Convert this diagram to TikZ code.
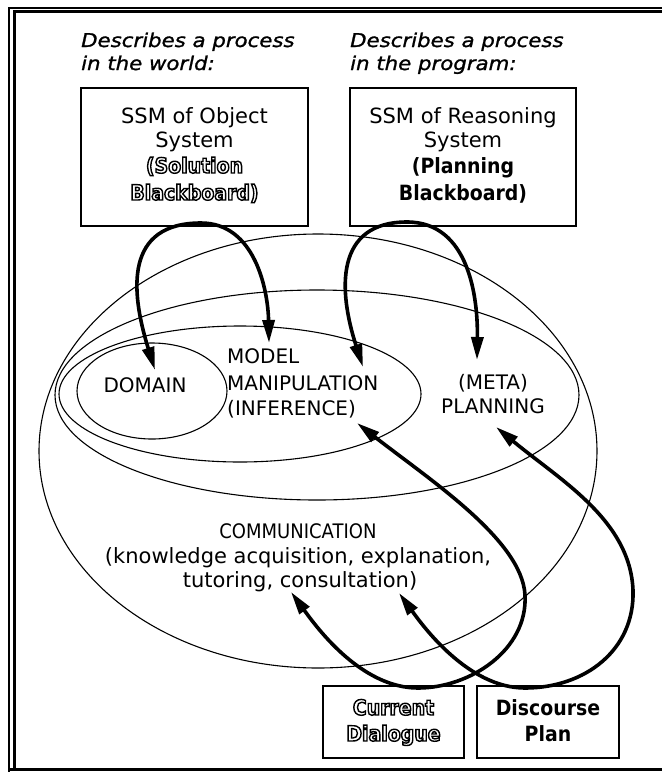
\documentclass[tikz,border=0pt]{standalone}
\usepackage{fontspec}
\setmainfont{DejaVu Sans}
\newfontfamily\plainfont{DejaVu Sans}
\newfontfamily\heavyfont{DejaVu Sans}[FakeStretch=0.9]
\newfontfamily\notefont{DejaVu Sans}[FakeStretch=1.12,FakeBold=1.2]
\newfontfamily\narrowfont{DejaVu Sans}[FakeStretch=0.9]
\usetikzlibrary{shapes.geometric,arrows.meta}

% stroked (hollow) lettering
\newcommand{\hollowtext}[1]{\special{pdf:literal direct 1 Tr 1.4 w}#1\special{pdf:literal direct 0 Tr}}

\begin{document}
\begin{tikzpicture}[x=1pt,y=-1pt,
  ring/.style={draw, ellipse, line width=1.1pt, inner sep=0pt, outer sep=0pt},
  box/.style={draw, rectangle, line width=1.8pt, inner sep=0pt, outer sep=0pt},
  txt/.style={inner sep=0pt, anchor=base},
  note/.style={txt, anchor=base west, font=\notefont\itshape\fontsize{19}{23}\selectfont},
  boxline/.style={txt, font=\plainfont\fontsize{21}{25}\selectfont},
  heavy/.style={txt, font=\heavyfont\bfseries\fontsize{21}{25}\selectfont},
  label/.style={txt, font=\plainfont\fontsize{20}{24}\selectfont},
  loop/.style={line width=3.6pt, {Triangle[length=23pt,width=12pt]}-{Triangle[length=23pt,width=12pt]}},
]
\useasboundingbox (0,0) rectangle (662,772);

% frame
\draw[line width=2pt] (8.5,772) -- (8.5,7.5) -- (662,7.5);
\draw[line width=2.5pt] (14.5,768) -- (14.5,11.5) -- (662,11.5);
\draw[line width=3pt] (8,769.5) -- (662,769.5);

% headings
\node[note] (h1a) at (81,47) {Describes a process};
\node[note] (h1b) at (81,70) {in the world:};
\node[note] (h2a) at (350,47) {Describes a process};
\node[note] (h2b) at (350,70) {in the program:};

% state-space model boxes
\node[box, minimum width=227pt, minimum height=138pt] (objbox) at (194.5,157) {};
\node[boxline] (o1) at (194.5,123) {SSM of Object};
\node[boxline] (o2) at (194.5,147) {System};
\node[heavy] (o3) at (194.5,173) {\hollowtext{(Solution}};
\node[heavy] (o4) at (194.5,200) {\hollowtext{Blackboard)}};

\node[box, minimum width=226pt, minimum height=138pt] (reabox) at (463,157) {};
\node[boxline] (r1) at (463,123) {SSM of Reasoning};
\node[boxline] (r2) at (463,147) {System};
\node[heavy] (r3) at (463,173) {(Planning};
\node[heavy] (r4) at (463,200) {Blackboard)};

% nested areas
\node[ring, minimum width=558pt, minimum height=434pt] (comm) at (318,451) {};
\node[ring, minimum width=524pt, minimum height=210pt] (plan) at (317,395) {};
\node[ring, minimum width=362pt, minimum height=136pt] (model) at (240,394) {};
\node[ring, minimum width=150pt, minimum height=96pt] (domain) at (152,391) {};

% area labels
\node[label] (dom) at (145,392) {DOMAIN};
\node[label, anchor=base west] (m1) at (227,363) {MODEL};
\node[label, anchor=base west] (m2) at (227,390) {MANIPULATION};
\node[label, anchor=base west] (m3) at (227,415) {(INFERENCE)};
\node[label] (p1) at (493,389) {(META)};
\node[label] (p2) at (493,413) {PLANNING};
\node[txt, font=\narrowfont\fontsize{20}{24}\selectfont] (c1) at (298,538) {COMMUNICATION};
\node[txt, font=\plainfont\fontsize{21}{25}\selectfont] (c2) at (298,563) {(knowledge acquisition, explanation,};
\node[txt, font=\plainfont\fontsize{21}{25}\selectfont] (c3) at (300,587) {tutoring, consultation)};

% dialogue boxes
\node[box, minimum width=141pt, minimum height=72pt] (curbox) at (393.5,722) {};
\node[heavy] (cu1) at (393.5,715) {\hollowtext{Current}};
\node[heavy] (cu2) at (393.5,741) {\hollowtext{Dialogue}};
\node[box, minimum width=142pt, minimum height=72pt] (disbox) at (548,722) {};
\node[heavy] (di1) at (548,715) {Discourse};
\node[heavy] (di2) at (548,741) {Plan};

% loop ends
\coordinate (apexObj) at (201,223);
\coordinate (apexRea) at (407,222);
\coordinate (apexCur) at (418,688);
\coordinate (apexDis) at (525,688);
\coordinate (tipDom) at (155,370);
\coordinate (tipMod) at (269,343);
\coordinate (tipInfA) at (363,367);
\coordinate (tipMetaA) at (477,360);
\coordinate (tipConsA) at (291,592);
\coordinate (tipInfB) at (357,423);
\coordinate (tipConsB) at (399,593);
\coordinate (tipMetaB) at (496,427);

% loops
\draw[loop] (tipDom) .. controls (130,290) and (125,223) .. (apexObj)
  .. controls (255,223) and (268,290) .. (tipMod);
\draw[loop] (tipInfA) .. controls (338,290) and (335,222) .. (apexRea)
  .. controls (470,222) and (478,300) .. (tipMetaA);
\draw[loop] (tipConsA) .. controls (315,625) and (360,688) .. (apexCur)
  .. controls (470,688) and (528,650) .. (525,595)
  .. controls (522,540) and (430,480) .. (tipInfB);
\draw[loop] (tipConsB) .. controls (423,626) and (468,688) .. (apexDis)
  .. controls (585,688) and (635,650) .. (633,590)
  .. controls (630,520) and (560,480) .. (tipMetaB);
\end{tikzpicture}
\end{document}
